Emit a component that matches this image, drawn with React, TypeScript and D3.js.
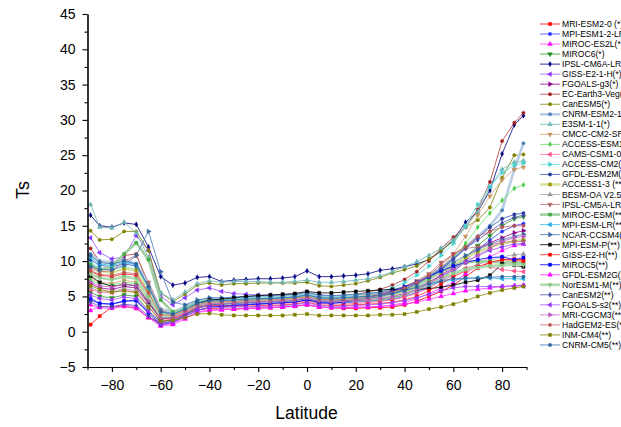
import React, { useEffect, useRef } from 'react';
import * as d3 from 'd3';

// latitude grid shared by every model
const latitudes = [-88.75, -85, -80, -75, -70, -65, -60, -55, -50,
  -45, -40, -35, -30, -25, -20, -15, -10, -5, 0, 5, 10, 15, 20, 25, 30, 35, 40,
  45, 50, 55, 60, 65, 70, 75, 80, 85, 88.75];

const xTicks = [-80, -60, -40, -20, 0, 20, 40, 60, 80];
const yTicks = [-5, 0, 5, 10, 15, 20, 25, 30, 35, 40, 45];

const modelNames = [
  'MRI-ESM2-0 (*)', 'MPI-ESM1-2-LR(*)', 'MIROC-ES2L(*)', 'MIROC6(*)', 'IPSL-CM6A-LR(*)',
  'GISS-E2-1-H(*)', 'FGOALS-g3(*)', 'EC-Earth3-Veg(*)', 'CanESM5(*)', 'CNRM-ESM2-1(*)',
  'E3SM-1-1(*)', 'CMCC-CM2-SR5(*)', 'ACCESS-ESM1-5(*)', 'CAMS-CSM1-0(*)', 'ACCESS-CM2(*)',
  'GFDL-ESM2M(**)', 'ACCESS1-3 (**)', 'BESM-OA V2.5(**)', 'IPSL-CM5A-LR(**)', 'MIROC-ESM(**)',
  'MPI-ESM-LR(**)', 'NCAR-CCSM4(**)', 'MPI-ESM-P(**)', 'GISS-E2-H(**)', 'MIROC5(**)',
  'GFDL-ESM2G(**)', 'NorESM1-M(**)', 'CanESM2(**)', 'FGOALS-s2(**)', 'MRI-CGCM3(**)',
  'HadGEM2-ES(**)', 'INM-CM4(**)', 'CNRM-CM5(**)',
];

// Ts values per model, same order as latitudes
const mriEsm20 = [1.0, 2.2, 3.5, 3.6, 3.3, 2.0, 1.3, 1.8, 2.5,
  3.1, 3.3, 3.2, 3.2, 3.3, 3.4, 3.4, 3.5, 3.6, 3.8, 3.5, 3.4, 3.3, 3.3, 3.4, 3.4, 3.5, 3.8,
  4.3, 5.0, 5.7, 6.6, 7.8, 9.0, 9.8, 10.2, 10.3, 10.2];
const mpiEsm12Lr = [4.8, 4.0, 3.9, 4.4, 4.3, 2.8, 1.5, 1.6, 2.4,
  3.4, 3.8, 3.7, 3.8, 3.9, 4.0, 4.0, 4.1, 4.2, 4.5, 4.2, 4.1, 4.1, 4.2, 4.3, 4.4, 4.6, 5.0,
  5.6, 6.4, 7.3, 8.4, 10.0, 11.6, 13.0, 14.2, 15.0, 15.3];
const mirocEs2l = [3.0, 3.6, 3.5, 3.8, 3.5, 2.0, 0.8, 1.0, 1.8,
  2.8, 3.1, 3.1, 3.2, 3.3, 3.4, 3.4, 3.5, 3.6, 3.9, 3.5, 3.4, 3.4, 3.4, 3.5, 3.6, 3.8, 4.1,
  4.7, 5.4, 6.2, 7.0, 8.2, 9.4, 10.6, 11.5, 12.2, 12.4];
const miroc6 = [5.6, 5.0, 4.8, 5.2, 5.0, 3.0, 1.2, 1.5, 2.3,
  3.5, 3.9, 3.9, 4.0, 4.1, 4.2, 4.3, 4.3, 4.4, 4.7, 4.3, 4.2, 4.2, 4.3, 4.4, 4.5, 4.8, 5.2,
  5.9, 6.7, 7.6, 8.8, 10.5, 12.2, 13.6, 15.0, 16.0, 16.3];
const ipslCm6aLr = [16.5, 15.0, 14.8, 15.4, 15.2, 12.0, 7.8, 6.6, 6.9,
  7.7, 7.8, 7.1, 7.3, 7.4, 7.5, 7.5, 7.6, 7.8, 8.6, 7.8, 7.8, 7.9, 8.0, 8.2, 8.7, 8.9, 9.2,
  9.6, 10.2, 11.4, 13.0, 15.5, 17.0, 20.0, 25.2, 29.3, 30.6];
const gissE21H = [13.3, 11.2, 10.3, 10.6, 13.6, 11.5, 5.0, 3.8, 4.8,
  5.9, 6.2, 5.7, 5.4, 5.3, 5.2, 5.2, 5.2, 5.3, 5.5, 5.2, 5.1, 5.1, 5.1, 5.2, 5.3, 5.5, 5.8,
  6.3, 7.0, 7.9, 8.9, 9.9, 10.8, 11.5, 12.0, 12.4, 12.5];
const fgoalsG3 = [6.8, 6.2, 6.0, 6.4, 6.2, 4.0, 1.8, 2.0, 2.8,
  3.8, 4.1, 4.0, 4.1, 4.2, 4.3, 4.3, 4.4, 4.5, 4.8, 4.4, 4.3, 4.4, 4.5, 4.6, 4.8, 5.1, 5.5,
  6.1, 7.0, 8.0, 9.2, 10.5, 11.8, 12.6, 13.3, 14.0, 14.3];
const ecEarth3Veg = [11.8, 10.0, 9.6, 10.8, 11.0, 6.5, 3.0, 2.6, 3.3,
  4.3, 4.6, 4.5, 4.6, 4.7, 4.8, 4.9, 5.0, 5.1, 5.4, 5.0, 5.0, 5.1, 5.3, 5.6, 6.0, 6.6, 7.4,
  8.5, 10.0, 11.8, 13.4, 14.8, 17.3, 21.2, 27.0, 29.6, 31.0];
const canEsm5 = [14.3, 13.0, 13.1, 14.2, 14.2, 11.5, 5.5, 4.3, 5.3,
  6.6, 6.9, 6.6, 6.8, 6.8, 6.9, 6.9, 6.9, 6.9, 7.0, 6.5, 6.4, 6.6, 6.8, 7.2, 7.7, 8.3, 8.8,
  9.3, 10.3, 11.5, 12.8, 14.8, 15.8, 17.6, 21.8, 25.0, 25.1];
const cnrmEsm21 = [11.0, 10.0, 9.8, 10.2, 9.6, 6.8, 3.2, 2.8, 3.5,
  4.4, 4.7, 4.6, 4.7, 4.8, 4.9, 4.9, 5.0, 5.1, 5.4, 5.0, 4.9, 5.0, 5.1, 5.3, 5.5, 5.8, 6.3,
  7.0, 7.9, 9.0, 10.4, 12.0, 13.5, 15.0, 17.2, 23.0, 26.7];
const e3sm11 = [18.0, 14.8, 14.7, 15.5, 14.0, 10.5, 5.5, 4.5, 5.6,
  6.8, 7.2, 7.0, 7.1, 7.1, 7.1, 7.0, 7.0, 7.1, 7.3, 7.0, 7.0, 7.1, 7.3, 7.5, 7.9, 8.5, 9.2,
  9.9, 10.8, 11.8, 13.0, 14.8, 17.0, 20.5, 23.0, 24.0, 24.2];
const cmccCm2Sr5 = [7.6, 7.0, 6.8, 7.3, 7.0, 4.8, 2.2, 2.3, 3.0,
  4.0, 4.3, 4.2, 4.3, 4.4, 4.5, 4.5, 4.6, 4.7, 5.0, 4.6, 4.5, 4.6, 4.7, 4.9, 5.2, 5.5, 6.0,
  6.7, 7.7, 9.0, 11.0, 13.5, 16.5, 19.2, 21.5, 23.0, 23.3];
const accessEsm15 = [7.3, 6.8, 6.6, 7.0, 6.8, 4.5, 2.0, 2.1, 2.9,
  3.9, 4.2, 4.1, 4.2, 4.3, 4.4, 4.4, 4.5, 4.6, 4.9, 4.5, 4.4, 4.5, 4.6, 4.8, 5.1, 5.4, 5.9,
  6.6, 7.5, 8.8, 10.5, 12.5, 14.8, 16.8, 18.6, 20.3, 20.8];
const camsCsm10 = [6.0, 5.6, 5.5, 5.9, 5.6, 3.6, 1.6, 1.8, 2.6,
  3.6, 3.8, 3.7, 3.7, 3.8, 3.9, 3.9, 4.0, 4.1, 4.4, 4.0, 3.9, 3.9, 4.0, 4.1, 4.3, 4.5, 4.9,
  5.4, 6.2, 7.2, 8.2, 9.0, 9.4, 9.2, 8.8, 8.6, 8.5];
const accessCm2 = [9.8, 9.0, 8.8, 9.2, 8.9, 6.0, 2.8, 2.6, 3.3,
  4.3, 4.6, 4.6, 4.7, 4.8, 4.9, 4.9, 5.0, 5.1, 5.4, 5.0, 4.9, 5.0, 5.2, 5.4, 5.7, 6.2, 7.0,
  8.0, 9.3, 10.8, 12.5, 15.0, 18.0, 20.5, 22.5, 23.6, 23.9];
const gfdlEsm2m = [10.2, 9.4, 9.2, 9.6, 9.3, 6.3, 2.9, 2.5, 3.2,
  4.2, 4.4, 4.4, 4.5, 4.6, 4.7, 4.7, 4.8, 4.9, 5.2, 4.8, 4.7, 4.8, 4.9, 5.0, 5.2, 5.5, 6.0,
  6.7, 7.6, 8.8, 10.2, 11.8, 13.3, 14.8, 16.0, 16.6, 16.8];
const access13 = [9.3, 8.6, 8.4, 8.9, 8.7, 5.8, 2.6, 2.4, 3.1,
  4.1, 4.3, 4.3, 4.4, 4.5, 4.6, 4.6, 4.7, 4.8, 5.1, 4.7, 4.6, 4.7, 4.8, 5.0, 5.2, 5.5, 6.0,
  6.6, 7.4, 8.4, 9.5, 10.5, 11.3, 12.0, 12.5, 12.8, 13.0];
const besmOaV25 = [6.2, 5.8, 5.7, 6.1, 5.8, 3.9, 1.8, 2.0, 2.8,
  3.8, 4.0, 4.0, 4.1, 4.1, 4.2, 4.2, 4.3, 4.4, 4.7, 4.3, 4.2, 4.2, 4.3, 4.4, 4.6, 4.9, 5.3,
  5.9, 6.5, 7.2, 8.0, 8.8, 9.5, 10.1, 10.6, 10.9, 11.0];
const ipslCm5aLr = [9.0, 8.5, 8.6, 10.0, 10.8, 7.0, 3.0, 2.4, 3.1,
  4.1, 4.3, 4.3, 4.4, 4.5, 4.6, 4.7, 4.8, 4.9, 5.2, 4.8, 4.7, 4.8, 4.9, 5.1, 5.4, 5.8, 6.4,
  7.2, 8.2, 9.8, 11.0, 11.8, 12.0, 12.3, 12.6, 12.8, 12.8];
const mirocEsm = [9.5, 8.8, 9.2, 11.0, 12.6, 10.2, 4.5, 2.8, 3.3,
  4.2, 4.4, 4.2, 4.3, 4.4, 4.5, 4.5, 4.6, 4.7, 5.0, 4.6, 4.5, 4.6, 4.7, 4.9, 5.1, 5.4, 5.9,
  6.6, 7.5, 8.5, 9.3, 9.8, 10.0, 9.9, 9.8, 9.8, 9.8];
const mpiEsmLr = [10.5, 9.6, 9.4, 9.8, 9.5, 6.2, 2.7, 2.5, 3.2,
  4.2, 4.4, 4.4, 4.5, 4.6, 4.7, 4.7, 4.8, 4.9, 5.2, 4.8, 4.7, 4.8, 4.9, 5.0, 5.2, 5.4, 5.7,
  6.1, 6.6, 7.0, 7.3, 7.5, 7.6, 7.6, 7.5, 7.5, 7.5];
const ncarCcsm4 = [9.2, 8.8, 8.8, 9.4, 10.8, 14.2, 8.5, 4.2, 3.8,
  4.5, 4.8, 4.8, 4.9, 5.0, 5.1, 5.1, 5.2, 5.3, 5.6, 5.2, 5.1, 5.2, 5.3, 5.4, 5.6, 5.9, 6.4,
  7.0, 7.8, 8.8, 9.8, 10.8, 11.6, 12.4, 13.0, 13.5, 13.8];
const mpiEsmP = [7.9, 7.0, 6.4, 6.7, 6.5, 4.2, 1.9, 2.0, 2.8,
  4.0, 4.5, 4.6, 4.8, 5.0, 5.1, 5.2, 5.3, 5.4, 5.7, 5.5, 5.5, 5.6, 5.7, 5.8, 5.9, 6.0, 6.0,
  6.0, 6.1, 6.3, 6.6, 7.0, 7.3, 8.0, 9.6, 9.4, 9.2];
const gissE2H = [8.5, 8.0, 7.8, 8.2, 8.0, 5.3, 2.3, 2.0, 2.7,
  3.4, 3.7, 3.6, 3.6, 3.6, 3.7, 3.7, 3.8, 3.9, 4.2, 3.8, 3.7, 3.7, 3.8, 3.9, 4.0, 4.2, 4.5,
  5.0, 5.8, 6.8, 7.8, 8.6, 9.2, 9.8, 10.2, 10.1, 10.0];
const miroc5 = [4.5, 4.0, 3.9, 4.3, 4.5, 2.6, 1.0, 1.3, 2.2,
  3.0, 3.5, 3.6, 3.7, 3.8, 3.9, 4.0, 4.1, 4.2, 4.5, 4.1, 4.0, 4.2, 4.5, 4.8, 5.2, 5.7, 6.3,
  7.0, 7.8, 8.6, 9.3, 9.8, 10.2, 10.5, 10.6, 10.2, 10.5];
const gfdlEsm2g = [3.8, 3.4, 3.3, 3.6, 3.3, 2.0, 0.9, 1.2, 2.0,
  2.7, 3.0, 3.1, 3.2, 3.3, 3.3, 3.4, 3.5, 3.6, 3.8, 3.5, 3.4, 3.4, 3.5, 3.5, 3.6, 3.7, 3.9,
  4.2, 4.6, 5.0, 5.4, 5.8, 6.0, 6.2, 6.4, 6.5, 6.6];
const norEsm1M = [8.2, 7.6, 7.4, 7.8, 7.5, 5.0, 2.2, 2.2, 2.9,
  3.7, 4.1, 4.1, 4.2, 4.3, 4.4, 4.4, 4.5, 4.6, 4.9, 4.5, 4.4, 4.5, 4.6, 4.7, 4.9, 5.2, 5.6,
  6.1, 6.8, 7.6, 8.3, 8.8, 9.1, 9.3, 9.4, 9.5, 9.5];
const canEsm2 = [4.2, 3.6, 3.5, 3.9, 3.7, 2.2, 1.0, 1.5, 2.4,
  3.3, 3.8, 3.9, 4.0, 4.1, 4.2, 4.2, 4.3, 4.4, 4.7, 4.3, 4.3, 4.4, 4.5, 4.7, 5.0, 5.4, 6.0,
  6.8, 7.8, 9.0, 10.4, 11.8, 13.0, 14.2, 15.4, 16.2, 16.5];
const fgoalsS2 = [5.2, 4.7, 4.5, 4.9, 4.7, 2.9, 1.2, 1.4, 2.2,
  3.0, 3.4, 3.4, 3.5, 3.5, 3.6, 3.6, 3.7, 3.8, 4.1, 3.7, 3.6, 3.6, 3.7, 3.8, 3.9, 4.1, 4.4,
  4.8, 5.3, 5.8, 6.2, 6.4, 6.4, 6.4, 6.4, 6.5, 6.5];
const mriCgcm3 = [7.0, 6.5, 6.3, 6.8, 6.5, 4.3, 1.9, 2.0, 2.8,
  3.6, 4.0, 4.0, 4.1, 4.2, 4.3, 4.3, 4.4, 4.5, 4.8, 4.4, 4.3, 4.3, 4.4, 4.5, 4.7, 5.0, 5.4,
  6.0, 6.8, 7.8, 8.8, 9.8, 10.8, 11.8, 12.8, 13.3, 13.5];
const hadGem2Es = [8.7, 8.1, 8.0, 8.4, 8.2, 5.5, 2.4, 2.3, 3.0,
  3.8, 4.2, 4.2, 4.3, 4.4, 4.5, 4.5, 4.6, 4.7, 5.0, 4.6, 4.5, 4.6, 4.7, 4.9, 5.2, 5.6, 6.2,
  7.0, 8.0, 9.5, 11.0, 12.0, 13.5, 14.2, 14.8, 15.0, 15.0];
const inmCm4 = [6.5, 6.0, 5.6, 5.8, 5.5, 3.5, 1.5, 1.6, 2.0,
  2.5, 2.6, 2.4, 2.3, 2.3, 2.3, 2.3, 2.3, 2.4, 2.5, 2.3, 2.3, 2.3, 2.3, 2.3, 2.4, 2.4, 2.5,
  2.8, 3.2, 3.5, 3.9, 4.4, 5.0, 5.5, 5.9, 6.2, 6.4];
const cnrmCm5 = [10.8, 9.8, 9.6, 10.0, 9.6, 6.4, 2.8, 2.5, 3.2,
  4.0, 4.4, 4.4, 4.5, 4.6, 4.7, 4.7, 4.8, 4.9, 5.2, 4.8, 4.7, 4.8, 4.9, 5.0, 5.2, 5.4, 5.8,
  6.3, 6.8, 7.2, 7.5, 7.6, 7.6, 7.7, 7.8, 7.8, 7.8];

const seriesValues = [
  mriEsm20, mpiEsm12Lr, mirocEs2l, miroc6, ipslCm6aLr, gissE21H, fgoalsG3, ecEarth3Veg,
  canEsm5, cnrmEsm21, e3sm11, cmccCm2Sr5, accessEsm15, camsCsm10, accessCm2, gfdlEsm2m,
  access13, besmOaV25, ipslCm5aLr, mirocEsm, mpiEsmLr, ncarCcsm4, mpiEsmP, gissE2H,
  miroc5, gfdlEsm2g, norEsm1M, canEsm2, fgoalsS2, mriCgcm3, hadGem2Es, inmCm4, cnrmCm5,
];

// line colour, marker colour, line width, marker shape
const seriesStyles = [
  ['#ff0000', '#ff0000', 0.8, 'square'],
  ['#3344ff', '#2233ff', 0.8, 'circle'],
  ['#ff44ff', '#ff00ff', 0.8, 'up'],
  ['#2e9a2e', '#1a8a1a', 0.8, 'down'],
  ['#000080', '#000080', 0.8, 'diamond'],
  ['#9955ff', '#8833ff', 0.8, 'left'],
  ['#990099', '#880088', 0.8, 'right'],
  ['#b03a3a', '#a02020', 0.8, 'circle'],
  ['#808000', '#808000', 0.8, 'circle'],
  ['#b8cce4', '#4f81bd', 2.6, 'circle'],
  ['#6fb7b7', '#6fb7b7', 0.8, 'up'],
  ['#d2a679', '#c8965f', 0.8, 'down'],
  ['#66e066', '#44cc44', 0.8, 'diamond'],
  ['#ff6699', '#ff4d88', 0.8, 'left'],
  ['#66e0e0', '#44d0d0', 0.8, 'right'],
  ['#3355bb', '#223399', 0.8, 'circle'],
  ['#d8e2a0', '#999900', 2.6, 'square'],
  ['#aaaaaa', '#999999', 0.8, 'up'],
  ['#bb7777', '#aa6666', 0.8, 'down'],
  ['#9fcf9f', '#44aa44', 2.6, 'square'],
  ['#33bbee', '#1fa8e0', 0.8, 'left'],
  ['#4477bb', '#33669f', 0.8, 'right'],
  ['#000000', '#000000', 0.8, 'square'],
  ['#ff2222', '#ff0000', 0.8, 'square'],
  ['#0000ff', '#0000ff', 0.8, 'square'],
  ['#ff33ff', '#ff00ff', 0.8, 'up'],
  ['#b0dab0', '#88c488', 2.6, 'down'],
  ['#5555bb', '#4444aa', 0.8, 'diamond'],
  ['#aa55ff', '#9933ff', 0.8, 'left'],
  ['#cc66cc', '#bb55bb', 0.8, 'right'],
  ['#cc6666', '#bb5555', 0.8, 'circle'],
  ['#888800', '#808000', 0.8, 'square'],
  ['#3a75b0', '#2f64a0', 0.8, 'circle'],
];

const width = 621;
const height = 427;
const font = '"Liberation Sans", Arial, sans-serif';

const x = d3.scaleLinear().domain([-90, 90]).range([87.5, 526.5]);
const y = d3.scaleLinear().domain([-5, 45]).range([367, 14]);

const line = d3.line<number>()
  .x((d, i) => x(latitudes[i]))
  .y(d => y(d));

function markerPath(shape: string) {
  const types: any = {
    square: d3.symbolSquare, circle: d3.symbolCircle, diamond: d3.symbolDiamond,
    up: d3.symbolTriangle, down: d3.symbolTriangle, left: d3.symbolTriangle, right: d3.symbolTriangle,
  };
  const size = shape === 'circle' ? 9 : shape === 'diamond' ? 8 : 10;
  return d3.symbol().type(types[shape]).size(size)() as string;
}

const rotation: any = { down: 180, left: -90, right: 90 };

function Marker({ cx, cy, shape, color }: any) {
  const r = rotation[shape] || 0;
  return (
    <path d={markerPath(shape)} fill={color} stroke={color} strokeWidth={0.4}
      transform={`translate(${cx},${cy}) rotate(${r})`} />
  );
}

export default function App() {
  const xAxisRef = useRef<SVGGElement>(null);
  const yAxisRef = useRef<SVGGElement>(null);

  useEffect(() => {
    const xMinor = d3.range(-90, 91, 10).filter(v => !xTicks.includes(v));
    const yMinor = yTicks.slice(0, -1).map(v => v + 2.5);

    const gx = d3.select(xAxisRef.current);
    gx.selectAll('*').remove();
    gx.append('g').call(d3.axisBottom(x).tickValues(xMinor).tickSize(3).tickSizeOuter(0).tickFormat(() => ''));
    gx.append('g').call(d3.axisBottom(x).tickValues(xTicks).tickSize(5).tickSizeOuter(0).tickPadding(8));

    const gy = d3.select(yAxisRef.current);
    gy.selectAll('*').remove();
    gy.append('g').call(d3.axisLeft(y).tickValues(yMinor).tickSize(3).tickSizeOuter(0).tickFormat(() => ''));
    gy.append('g').call(d3.axisLeft(y).tickValues(yTicks).tickSize(5).tickSizeOuter(0).tickPadding(7));

    for (const g of [gx, gy]) {
      g.selectAll('g').attr('font-family', font).attr('font-size', 14);
      g.selectAll('path, line').attr('stroke', '#000').attr('stroke-width', 1.1);
      g.selectAll('text').attr('fill', '#000');
    }
  }, []);

  return (
    <>
      <style>{'body{margin:0}'}</style>
      <svg width={width} height={height} style={{ display: 'block', background: '#fff' }}>
        <g>
          {seriesValues.map((vals, si) => {
            const [lc, mc, lw, shape] = seriesStyles[si] as any;
            return (
              <g key={modelNames[si]}>
                <path d={line(vals) as string} fill="none" stroke={lc} strokeWidth={lw} />
                {vals.map((v, i) => (
                  <Marker key={i} cx={x(latitudes[i])} cy={y(v)} shape={shape} color={mc} />
                ))}
              </g>
            );
          })}
        </g>

        <g ref={xAxisRef} transform={`translate(0,${y(-5)})`} />
        <g ref={yAxisRef} transform={`translate(${x(-90)},0)`} />

        <text x={306.5} y={419} textAnchor="middle" fontFamily={font} fontSize={17.5}>Latitude</text>
        <text transform="translate(29,190) rotate(-90)" textAnchor="middle" fontFamily={font} fontSize={18}>Ts</text>

        <g>
          {modelNames.map((name, i) => {
            const [lc, mc, lw, shape] = seriesStyles[i] as any;
            const ly = 24 + i * 10.03;
            return (
              <g key={name}>
                <line x1={540} x2={560} y1={ly} y2={ly} stroke={lc} strokeWidth={lw} />
                <Marker cx={550} cy={ly} shape={shape} color={mc} />
                <text x={562} y={ly} dy="0.35em" fontFamily={font} fontSize={8.6} fill="#000">{name}</text>
              </g>
            );
          })}
        </g>
      </svg>
    </>
  );
}
